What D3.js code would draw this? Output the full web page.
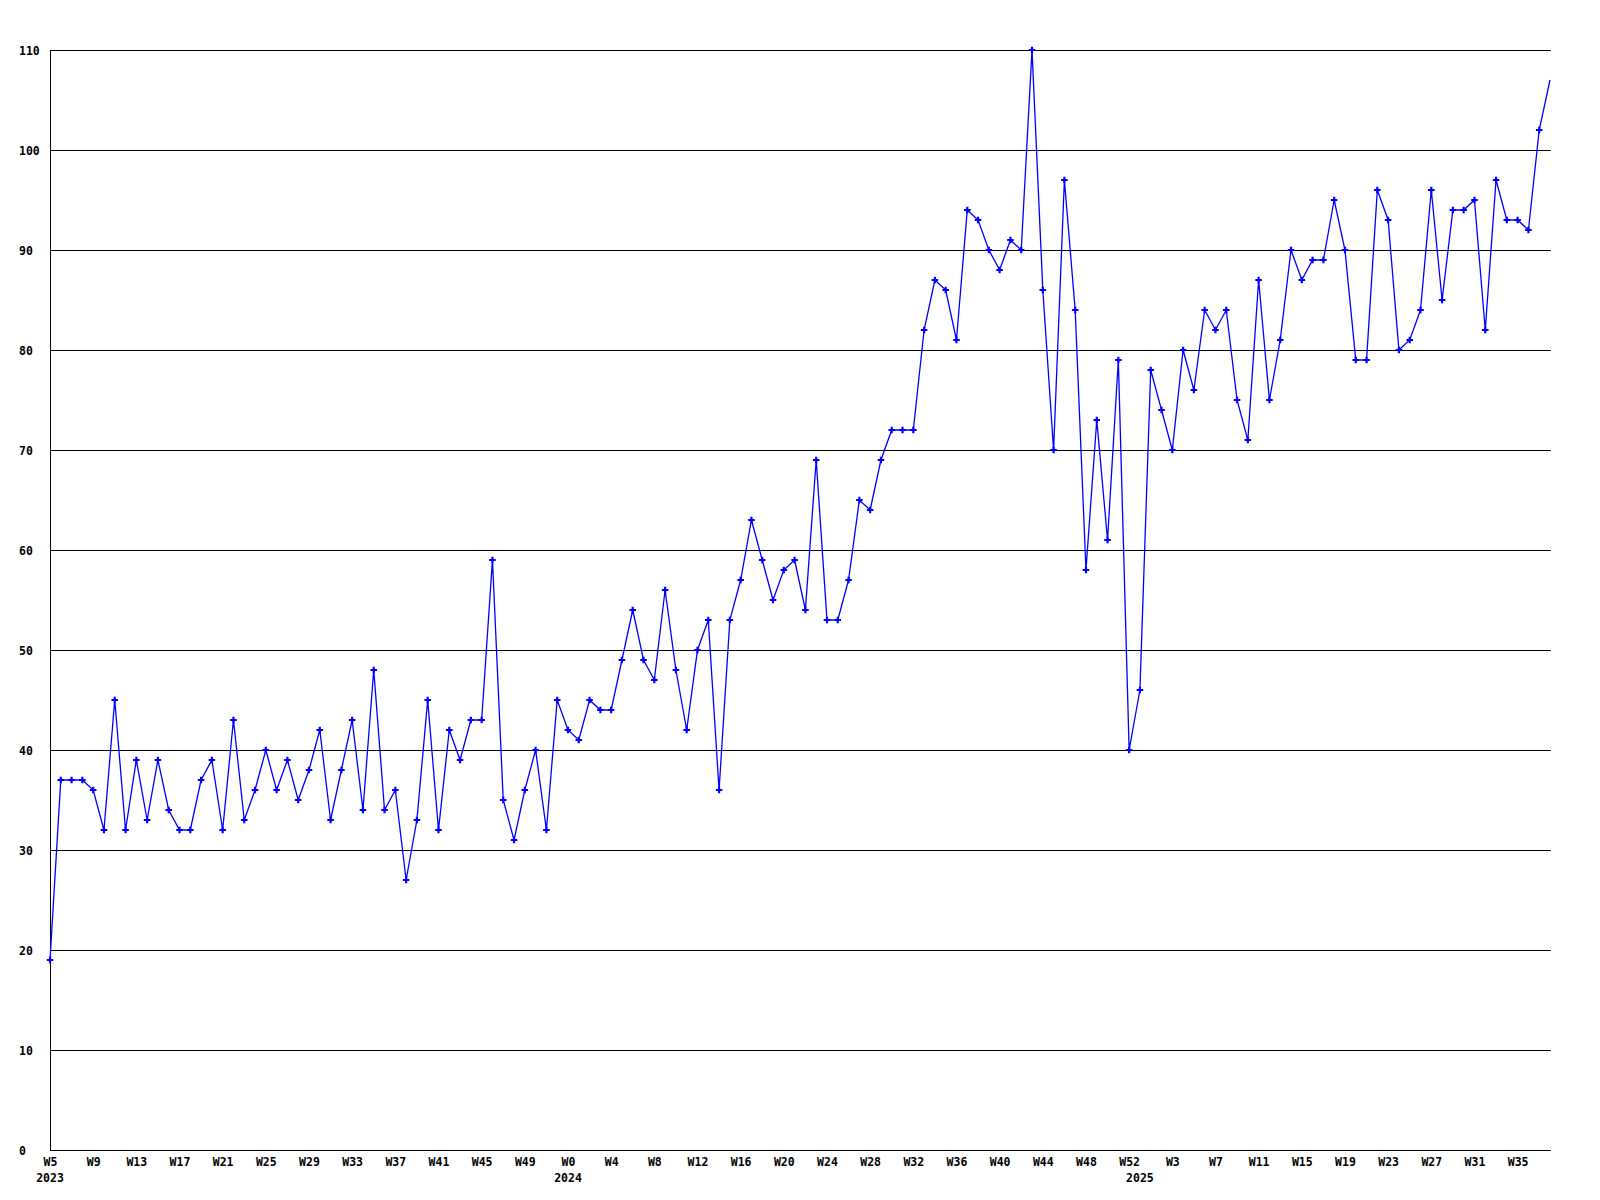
<!DOCTYPE html>
<html>
<head>
<meta charset="utf-8">
<script src="https://cdn.jsdelivr.net/npm/d3@7"></script>
<style>
  body { margin: 0; background: #fff; }
  text { font-family: "DejaVu Sans Mono", monospace; font-weight: bold; font-size: 11.5px; fill: #000; }
</style>
</head>
<body>
<svg width="1600" height="1200"></svg>
<script>
// week ranges per year (first and last week number shown)
var years = [2023, 2024, 2025];
var firstWeek = [5, 0, 0];
var lastWeek = [52, 52, 38];

// weekly values, one per week from 2023 W5 to 2025 W38
var values = [
  19, 37, 37, 37, 36, 32, 45, 32, 39, 33, 39, 34, 32, 32, 37, 39, 32, 43, 33, 36,
  40, 36, 39, 35, 38, 42, 33, 38, 43, 34, 48, 34, 36, 27, 33, 45, 32, 42, 39, 43,
  43, 59, 35, 31, 36, 40, 32, 45, 42, 41, 45, 44, 44, 49, 54, 49, 47, 56, 48, 42,
  50, 53, 36, 53, 57, 63, 59, 55, 58, 59, 54, 69, 53, 53, 57, 65, 64, 69, 72, 72,
  72, 82, 87, 86, 81, 94, 93, 90, 88, 91, 90, 110, 86, 70, 97, 84, 58, 73, 61, 79,
  40, 46, 78, 74, 70, 80, 76, 84, 82, 84, 75, 71, 87, 75, 81, 90, 87, 89, 89, 95,
  90, 79, 79, 96, 93, 80, 81, 84, 96, 85, 94, 94, 95, 82, 97, 93, 93, 92, 102, 107
];

var yTicks = [0, 10, 20, 30, 40, 50, 60, 70, 80, 90, 100, 110];

var weeks = [];
years.forEach((yr, i) => {
  d3.range(firstWeek[i], lastWeek[i] + 1).forEach((w, j) => {
    weeks.push({ label: "W" + w, year: j === 0 ? yr : null });
  });
});

var svg = d3.select("svg");
var plotLeft = 50, plotRight = 1550, plotTop = 50, plotBottom = 1150;

var x = d3.scaleLinear().domain([0, values.length - 1]).range([plotLeft, plotRight]);
var y = d3.scaleLinear().domain([0, 110]).range([plotBottom, plotTop]);

svg.append("rect").attr("width", 1600).attr("height", 1200).attr("fill", "#fff");

// horizontal grid + y labels
var yAxis = svg.append("g")
    .attr("transform", "translate(" + plotLeft + ",0)")
    .call(d3.axisLeft(y).tickValues(yTicks).tickSize(-(plotRight - plotLeft + 1)).tickFormat(d3.format("d")));
yAxis.select(".domain").remove();
yAxis.attr("font-family", null).attr("font-size", null);
yAxis.selectAll(".tick line").attr("stroke", "#000").attr("shape-rendering", "crispEdges");
yAxis.selectAll(".tick text")
    .attr("x", 19 - plotLeft)
    .attr("dy", "0.35em")
    .attr("text-anchor", "start");

// left axis line
svg.append("line")
    .attr("x1", plotLeft).attr("x2", plotLeft)
    .attr("y1", y(110)).attr("y2", y(0))
    .attr("stroke", "#000").attr("shape-rendering", "crispEdges");

// x labels every 4 weeks
var xAxis = svg.append("g")
    .attr("transform", "translate(0," + plotBottom + ")")
    .call(d3.axisBottom(x)
        .tickValues(d3.range(0, values.length, 4))
        .tickSize(0)
        .tickFormat(i => weeks[i].label));
xAxis.select(".domain").remove();
xAxis.attr("font-family", null).attr("font-size", null);
xAxis.selectAll(".tick text").attr("y", 16).attr("dy", 0);

// year labels under first week of each year
svg.append("g")
    .selectAll("text")
    .data(weeks.map((w, i) => ({ i: i, year: w.year })).filter(d => d.year))
    .enter().append("text")
    .attr("x", d => x(d.i))
    .attr("y", plotBottom + 32)
    .attr("text-anchor", "middle")
    .text(d => d.year);

// the line
var line = d3.line()
    .x((d, i) => x(i))
    .y(d => y(d));

svg.append("path")
    .datum(values)
    .attr("d", line)
    .attr("fill", "none")
    .attr("stroke", "#0000ff")
    .attr("stroke-width", 1.3);

// markers (last one sits on the plot edge and is cut off)
svg.append("g")
    .selectAll("path")
    .data(values.slice(0, values.length - 1))
    .enter().append("path")
    .attr("transform", (d, i) => "translate(" + x(i) + "," + y(d) + ")")
    .attr("d", d3.symbol().type(d3.symbolCross).size(24))
    .attr("fill", "#0000ff");
</script>
</body>
</html>
